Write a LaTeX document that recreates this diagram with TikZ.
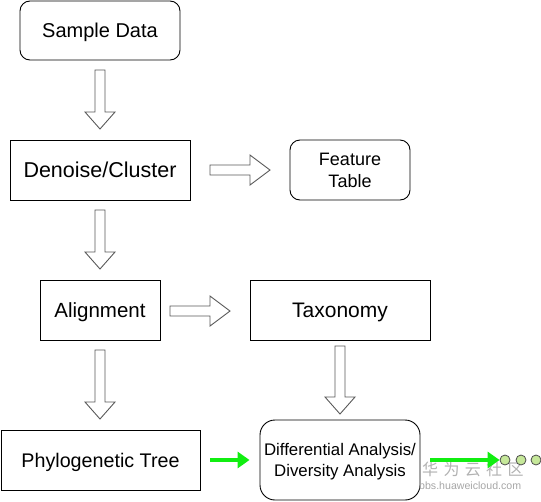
\documentclass[tikz,border=0pt]{standalone}
\usepackage{fontspec}
\setmainfont{Liberation Sans}
\newfontfamily\cjkfont{Noto Sans CJK SC}
\usetikzlibrary{arrows.meta,calc}
\definecolor{lgreen}{HTML}{C6E89A}
\definecolor{bgreen}{HTML}{11EE11}
\tikzset{
  box/.style={draw=black, line width=0.9pt, fill=white, align=center, inner sep=0pt, text depth=0pt},
  rbox/.style={box, rounded corners=10pt},
  barrow/.style={draw=black!65, line width=0.9pt, fill=white},
  garrow/.style={draw=bgreen, line width=4pt, -{Triangle[length=12pt,width=16pt]}},
  dot/.style={circle, draw=black!70, line width=0.8pt, fill=lgreen, minimum size=10pt, inner sep=0pt},
}
% vertical block arrow: x, ytop, ybottom (y grows downward)
\newcommand\myvarrow[3]{%
  \draw[barrow] (#1-5,-#2) -- (#1+5,-#2) -- (#1+5,-#3+17) -- (#1+15,-#3+17) -- (#1,-#3)
    -- (#1-15,-#3+17) -- (#1-5,-#3+17) -- cycle;}
% horizontal block arrow: y, xleft, xright
\newcommand\myharrow[3]{%
  \draw[barrow] (#2,-#1+5) -- (#3-20,-#1+5) -- (#3-20,-#1+15) -- (#3,-#1) -- (#3-20,-#1-15)
    -- (#3-20,-#1-5) -- (#2,-#1-5) -- cycle;}
\begin{document}
\begin{tikzpicture}[x=1pt,y=1pt]
\useasboundingbox (0,0) rectangle (541,-501);
% nodes
\node[rbox, minimum width=160pt, minimum height=59pt, text height=14.4pt, font=\fontsize{20}{24}\selectfont] (sample) at (100,-30.5) {Sample Data};
\node[box, minimum width=180pt, minimum height=60pt, text height=15.5pt, font=\fontsize{21.5}{26}\selectfont] (denoise) at (100,-170) {Denoise/Cluster};
\node[rbox, minimum width=120pt, minimum height=60pt, text height=35pt, font=\fontsize{18}{22}\selectfont] (feature) at (350,-170) {Feature\\Table};
\node[box, minimum width=120pt, minimum height=60pt, text height=14.8pt, font=\fontsize{20.5}{24}\selectfont] (align) at (100,-310) {Alignment};
\node[box, minimum width=180pt, minimum height=60pt, text height=15.1pt, font=\fontsize{21}{25}\selectfont] (taxo) at (340,-310) {Taxonomy};
\node[box, minimum width=199pt, minimum height=60pt, text height=14.2pt, font=\fontsize{19.7}{24}\selectfont] (phylo) at (100.5,-460) {Phylogenetic Tree};
\node[box, rounded corners=15pt, minimum width=160pt, minimum height=80pt, text height=33.1pt, font=\fontsize{16.8}{21}\selectfont] (diff) at (340,-460) {Differential Analysis/\\Diversity Analysis};
% block arrows
\myvarrow{100}{70}{129}
\myharrow{170}{210}{270}
\myvarrow{100}{210}{269}
\myharrow{311}{170}{230}
\myvarrow{100}{350}{419}
\myvarrow{340}{346}{414}
% watermark
\node[font=\cjkfont\fontsize{16}{18}\selectfont, text=black!30, anchor=west, inner sep=0pt] (wm1) at (422,-469) {华\,\,为\,\,云\,\,社\,\,区};
\node[font=\fontsize{10.6}{12}\selectfont, text=black!35, anchor=west, inner sep=0pt] (wm2) at (419,-486) {bbs.huaweicloud.com};
% green arrows
\coordinate (g1s) at ($(phylo.east)+(10,0)$);
\coordinate (g1e) at ($(diff.west)+(-10,0)$);
\draw[garrow] (g1s) -- (g1e);
\node[dot] (d1) at (505,-460) {};
\node[dot] (d2) at (521,-460) {};
\node[dot] (d3) at (536,-460) {};
\coordinate (g2s) at ($(diff.east)+(10,0)$);
\draw[garrow] (g2s) -- (d1.west);
\end{tikzpicture}
\end{document}
